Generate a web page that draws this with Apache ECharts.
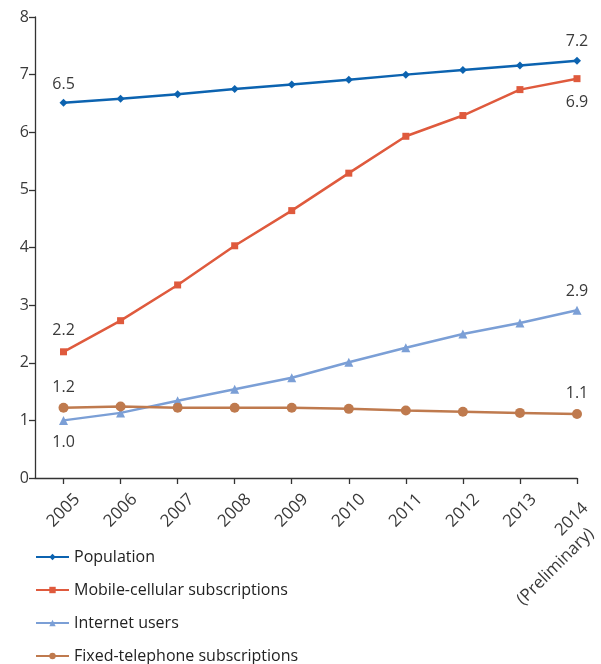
<!DOCTYPE html>
<html>
<head>
<meta charset="utf-8">
<script src="https://cdn.jsdelivr.net/npm/echarts@6/dist/echarts.min.js"></script>
<style>html,body{margin:0;padding:0;background:#fff}#c{width:601px;height:664px}</style>
</head>
<body>
<div id="c"></div>
<script>
var years = [2005, 2006, 2007, 2008, 2009, 2010, 2011, 2012, 2013, 2014];
var yearLabels = ['2005','2006','2007','2008','2009','2010','2011','2012','2013','2014'];
var lastNote = '(Preliminary)';
var population = [6.51, 6.58, 6.66, 6.75, 6.83, 6.91, 7.00, 7.08, 7.16, 7.24];
var mobile = [2.19, 2.73, 3.35, 4.03, 4.64, 5.29, 5.93, 6.29, 6.74, 6.93];
var internet = [1.00, 1.13, 1.34, 1.54, 1.74, 2.01, 2.26, 2.50, 2.69, 2.91];
var fixedTel = [1.22, 1.24, 1.22, 1.22, 1.22, 1.20, 1.17, 1.15, 1.13, 1.11];
var yTicks = [0, 1, 2, 3, 4, 5, 6, 7, 8];

var FONT = '"Open Sans", "DejaVu Sans", sans-serif';
var TXT = '#3a3a3a';

function build(values, labelCfg) {
  return years.map(function (y, i) {
    var item = { value: [y, values[i]] };
    if (labelCfg[i]) {
      item.label = {
        show: true,
        position: labelCfg[i][0],
        distance: labelCfg[i][1],
        formatter: values[i].toFixed(1),
        fontFamily: FONT, fontSize: 16, color: TXT
      };
    }
    return item;
  });
}

var chart = echarts.init(document.getElementById('c'), null, {renderer: 'canvas'});
chart.setOption({
  animation: false,
  grid: { left: 35, right: 24, top: 17, bottom: 186, containLabel: false, outerBoundsMode: 'none' },
  legend: {
    orient: 'vertical',
    left: 35, top: 549, padding: 0, height: 200,
    itemWidth: 33, itemHeight: 8, itemGap: 17,
    textStyle: { fontFamily: FONT, fontSize: 16, color: '#222' },
    data: ['Population', 'Mobile-cellular subscriptions', 'Internet users', 'Fixed-telephone subscriptions']
  },
  xAxis: {
    type: 'value', min: 2004.5, max: 2014,
    splitLine: { show: false },
    axisLine: { lineStyle: { color: '#333', width: 1.3 } },
    axisTick: { show: true, length: 6, customValues: years, lineStyle: { color: '#333', width: 1.3 } },
    axisLabel: {
      customValues: years, rotate: 45, margin: 5, hideOverlap: false,
      padding: [11, 0, 0, 0],
      fontFamily: FONT, fontSize: 17, color: TXT, align: 'right', verticalAlign: 'top',
      formatter: function (v) {
        var i = years.indexOf(Math.round(v));
        if (i < 0) return '';
        if (i === years.length - 1) return '{a|' + yearLabels[i] + '}\n{b|' + lastNote + '}';
        return yearLabels[i];
      },
      rich: {
        a: { fontFamily: FONT, fontSize: 17, color: TXT, lineHeight: 22, padding: [0, 10, 0, 0] },
        b: { fontFamily: FONT, fontSize: 17, color: TXT, lineHeight: 22, padding: [0, 24, 0, 0] }
      }
    }
  },
  yAxis: {
    type: 'value', min: 0, max: 8, interval: 1,
    splitLine: { show: false },
    axisLine: { show: true, lineStyle: { color: '#333', width: 1.3 } },
    axisTick: { show: true, length: 6, lineStyle: { color: '#333', width: 1.3 } },
    axisLabel: { margin: 6, fontFamily: FONT, fontSize: 16, color: TXT,
      formatter: function (v) { return yTicks.indexOf(v) >= 0 ? String(v) : ''; } }
  },
  series: [
    { name: 'Population', type: 'line', symbol: 'diamond', symbolSize: 8,
      itemStyle: { color: '#0c63b0' }, lineStyle: { width: 2.5, color: '#0c63b0' },
      data: build(population, {0: ['top', 6], 9: ['top', 7]}) },
    { name: 'Mobile-cellular subscriptions', type: 'line', symbol: 'rect', symbolSize: 7,
      itemStyle: { color: '#df5a3d' }, lineStyle: { width: 2.5, color: '#df5a3d' },
      data: build(mobile, {0: ['top', 10], 9: ['bottom', 12]}) },
    { name: 'Internet users', type: 'line', symbol: 'triangle', symbolSize: 9,
      itemStyle: { color: '#7b9fd6' }, lineStyle: { width: 2.5, color: '#7b9fd6' },
      data: build(internet, {0: ['bottom', 10], 9: ['top', 6]}) },
    { name: 'Fixed-telephone subscriptions', type: 'line', symbol: 'circle', symbolSize: 10,
      itemStyle: { color: '#bf7a4e' }, lineStyle: { width: 2.5, color: '#bf7a4e' },
      data: build(fixedTel, {0: ['top', 7], 9: ['top', 8]}) }
  ]
});
</script>
</body>
</html>
